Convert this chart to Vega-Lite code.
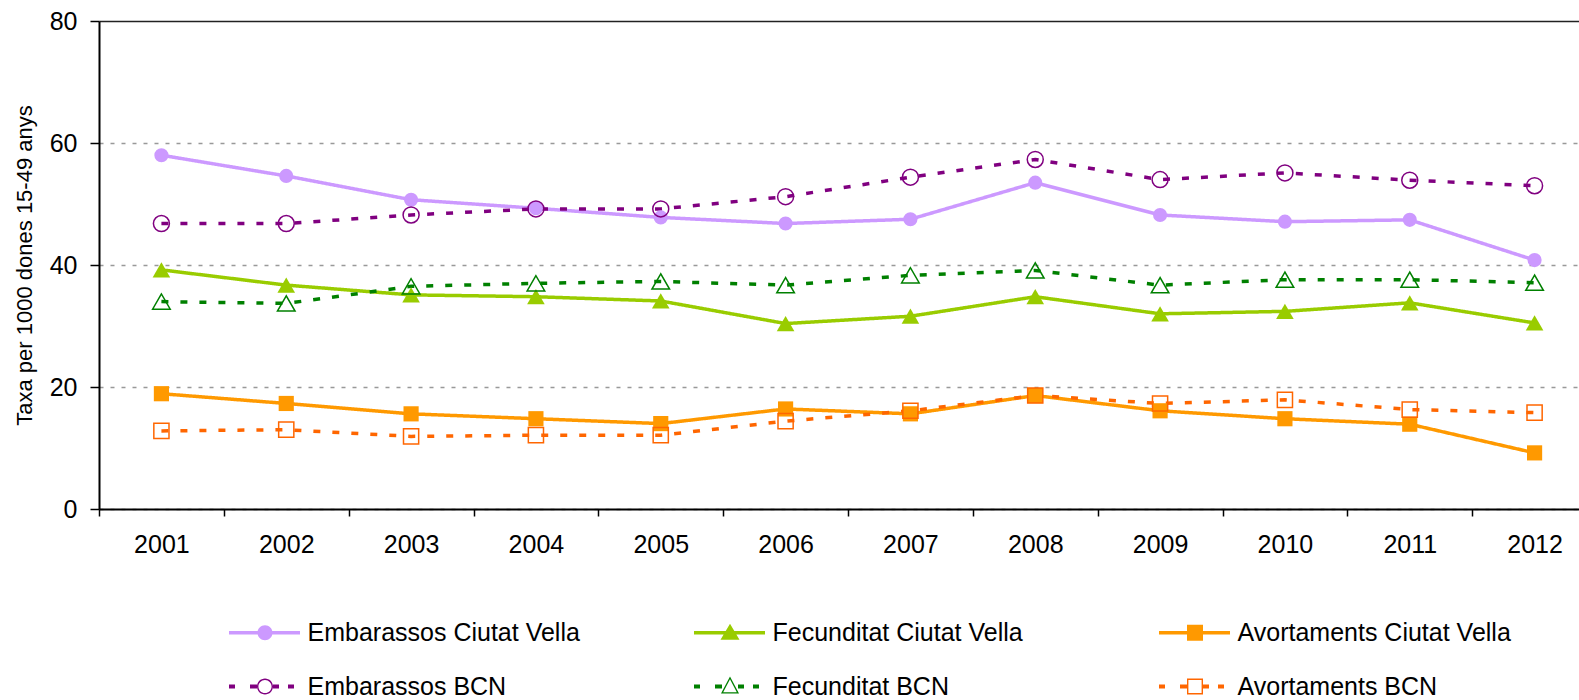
{
  "$schema": "https://vega.github.io/schema/vega-lite/v6.json",
  "width": 1480,
  "height": 488,
  "autosize": {"type": "none"},
  "padding": {"left": 99, "top": 21, "right": 0, "bottom": 191},
  "background": "white",
  "config": {"view": {"stroke": null}, "font": "Liberation Sans"},
  "data": {
    "values": [
      {"year": 2001, "series": "Embarassos Ciutat Vella", "value": 58.0},
      {"year": 2002, "series": "Embarassos Ciutat Vella", "value": 54.6},
      {"year": 2003, "series": "Embarassos Ciutat Vella", "value": 50.7},
      {"year": 2004, "series": "Embarassos Ciutat Vella", "value": 49.3},
      {"year": 2005, "series": "Embarassos Ciutat Vella", "value": 47.8},
      {"year": 2006, "series": "Embarassos Ciutat Vella", "value": 46.8},
      {"year": 2007, "series": "Embarassos Ciutat Vella", "value": 47.5},
      {"year": 2008, "series": "Embarassos Ciutat Vella", "value": 53.5},
      {"year": 2009, "series": "Embarassos Ciutat Vella", "value": 48.2},
      {"year": 2010, "series": "Embarassos Ciutat Vella", "value": 47.1},
      {"year": 2011, "series": "Embarassos Ciutat Vella", "value": 47.4},
      {"year": 2012, "series": "Embarassos Ciutat Vella", "value": 40.8},
      {"year": 2001, "series": "Fecunditat Ciutat Vella", "value": 39.2},
      {"year": 2002, "series": "Fecunditat Ciutat Vella", "value": 36.7},
      {"year": 2003, "series": "Fecunditat Ciutat Vella", "value": 35.1},
      {"year": 2004, "series": "Fecunditat Ciutat Vella", "value": 34.8},
      {"year": 2005, "series": "Fecunditat Ciutat Vella", "value": 34.1},
      {"year": 2006, "series": "Fecunditat Ciutat Vella", "value": 30.4},
      {"year": 2007, "series": "Fecunditat Ciutat Vella", "value": 31.6},
      {"year": 2008, "series": "Fecunditat Ciutat Vella", "value": 34.8},
      {"year": 2009, "series": "Fecunditat Ciutat Vella", "value": 32.0},
      {"year": 2010, "series": "Fecunditat Ciutat Vella", "value": 32.4},
      {"year": 2011, "series": "Fecunditat Ciutat Vella", "value": 33.8},
      {"year": 2012, "series": "Fecunditat Ciutat Vella", "value": 30.5},
      {"year": 2001, "series": "Avortaments Ciutat Vella", "value": 18.9},
      {"year": 2002, "series": "Avortaments Ciutat Vella", "value": 17.3},
      {"year": 2003, "series": "Avortaments Ciutat Vella", "value": 15.6},
      {"year": 2004, "series": "Avortaments Ciutat Vella", "value": 14.8},
      {"year": 2005, "series": "Avortaments Ciutat Vella", "value": 14.0},
      {"year": 2006, "series": "Avortaments Ciutat Vella", "value": 16.4},
      {"year": 2007, "series": "Avortaments Ciutat Vella", "value": 15.6},
      {"year": 2008, "series": "Avortaments Ciutat Vella", "value": 18.6},
      {"year": 2009, "series": "Avortaments Ciutat Vella", "value": 16.1},
      {"year": 2010, "series": "Avortaments Ciutat Vella", "value": 14.8},
      {"year": 2011, "series": "Avortaments Ciutat Vella", "value": 13.9},
      {"year": 2012, "series": "Avortaments Ciutat Vella", "value": 9.2},
      {"year": 2001, "series": "Embarassos BCN", "value": 46.8},
      {"year": 2002, "series": "Embarassos BCN", "value": 46.8},
      {"year": 2003, "series": "Embarassos BCN", "value": 48.2},
      {"year": 2004, "series": "Embarassos BCN", "value": 49.2},
      {"year": 2005, "series": "Embarassos BCN", "value": 49.2},
      {"year": 2006, "series": "Embarassos BCN", "value": 51.2},
      {"year": 2007, "series": "Embarassos BCN", "value": 54.4},
      {"year": 2008, "series": "Embarassos BCN", "value": 57.3},
      {"year": 2009, "series": "Embarassos BCN", "value": 54.0},
      {"year": 2010, "series": "Embarassos BCN", "value": 55.1},
      {"year": 2011, "series": "Embarassos BCN", "value": 53.9},
      {"year": 2012, "series": "Embarassos BCN", "value": 53.0},
      {"year": 2001, "series": "Fecunditat BCN", "value": 34.0},
      {"year": 2002, "series": "Fecunditat BCN", "value": 33.7},
      {"year": 2003, "series": "Fecunditat BCN", "value": 36.5},
      {"year": 2004, "series": "Fecunditat BCN", "value": 37.0},
      {"year": 2005, "series": "Fecunditat BCN", "value": 37.3},
      {"year": 2006, "series": "Fecunditat BCN", "value": 36.7},
      {"year": 2007, "series": "Fecunditat BCN", "value": 38.3},
      {"year": 2008, "series": "Fecunditat BCN", "value": 39.1},
      {"year": 2009, "series": "Fecunditat BCN", "value": 36.7},
      {"year": 2010, "series": "Fecunditat BCN", "value": 37.6},
      {"year": 2011, "series": "Fecunditat BCN", "value": 37.6},
      {"year": 2012, "series": "Fecunditat BCN", "value": 37.1},
      {"year": 2001, "series": "Avortaments BCN", "value": 12.8},
      {"year": 2002, "series": "Avortaments BCN", "value": 13.0},
      {"year": 2003, "series": "Avortaments BCN", "value": 11.9},
      {"year": 2004, "series": "Avortaments BCN", "value": 12.1},
      {"year": 2005, "series": "Avortaments BCN", "value": 12.1},
      {"year": 2006, "series": "Avortaments BCN", "value": 14.4},
      {"year": 2007, "series": "Avortaments BCN", "value": 16.1},
      {"year": 2008, "series": "Avortaments BCN", "value": 18.6},
      {"year": 2009, "series": "Avortaments BCN", "value": 17.3},
      {"year": 2010, "series": "Avortaments BCN", "value": 17.9},
      {"year": 2011, "series": "Avortaments BCN", "value": 16.3},
      {"year": 2012, "series": "Avortaments BCN", "value": 15.8}
    ]
  },
  "encoding": {
    "x": {
      "field": "year",
      "type": "ordinal",
      "scale": {"range": [0, 1498], "paddingInner": 0, "paddingOuter": 0},
      "axis": {
        "title": null,
        "labelAngle": 0,
        "tickBand": "extent",
        "tickSize": 7,
        "tickColor": "black",
        "tickWidth": 1.5,
        "domainColor": "black",
        "domainWidth": 2,
        "labelFontSize": 25,
        "labelColor": "black",
        "labelPadding": 16,
        "grid": false
      }
    },
    "y": {
      "field": "value",
      "type": "quantitative",
      "scale": {"domain": [0, 80], "nice": false},
      "axis": {
        "title": "Taxa per 1000 dones 15-49 anys",
        "values": [0, 20, 40, 60, 80],
        "tickSize": 9,
        "tickColor": "black",
        "tickWidth": 1.5,
        "domainColor": "black",
        "domainWidth": 2,
        "labelFontSize": 25,
        "labelPadding": 13,
        "labelColor": "black",
        "grid": true,
        "gridColor": {"condition": {"test": "datum.value === 80", "value": "#222222"}, "value": "#999999"},
        "gridDash": {"condition": {"test": "datum.value === 80", "value": [1, 0]}, "value": [4, 7]},
        "gridWidth": {"condition": {"test": "datum.value === 80", "value": 1.5}, "value": 1.3},
        "titleFontSize": 22,
        "titleFontWeight": "normal",
        "titleColor": "black",
        "titlePadding": 13
      }
    }
  },
  "layer": [
    {
      "mark": {"type": "line", "strokeCap": "butt", "strokeWidth": 3.5},
      "encoding": {
        "color": {
          "field": "series",
          "type": "nominal",
          "scale": {
            "domain": ["Embarassos Ciutat Vella", "Fecunditat Ciutat Vella", "Avortaments Ciutat Vella", "Embarassos BCN", "Fecunditat BCN", "Avortaments BCN"],
            "range": ["#CC99FF", "#99CC00", "#FF9900", "#800080", "#008000", "#FF6600"]
          },
          "legend": {
            "orient": "none",
            "direction": "horizontal",
            "legendX": 123,
            "legendY": 599,
            "columns": 3,
            "gridAlign": "all",
            "title": null,
            "padding": 0,
            "symbolSize": 4,
            "symbolStrokeWidth": 0,
            "symbolOffset": 30.5,
            "labelOffset": 30,
            "labelFontSize": 25,
            "labelFont": "Liberation Sans",
            "labelColor": "black",
            "labelLimit": 500,
            "columnPadding": 106,
            "rowPadding": 28,
            "encode": {
              "symbols": {
                "update": {
                  "shape": {"signal": "datum.value === 'Embarassos Ciutat Vella' ? 'M-36,-1.75H35V1.75H-36Z M-7.5,0A7.5,7.5 0 1,1 7.5,0A7.5,7.5 0 1,1 -7.5,0Z' : datum.value === 'Fecunditat Ciutat Vella' ? 'M-36,-1.75H35V1.75H-36Z M0,-9L9.5,7L-9.5,7Z' : datum.value === 'Avortaments Ciutat Vella' ? 'M-36,-1.75H35V1.75H-36Z M-8,-8H8V8H-8Z' : datum.value === 'Embarassos BCN' ? 'M-36,-2H-30V2H-36Z M-15,-2H-8V2H-15Z M8,-2H14V2H8Z M23,-2H29V2H23Z M-8,0A8,8 0 1,1 8,0A8,8 0 1,1 -8,0Z M-6.6,0A6.6,6.6 0 1,0 6.6,0A6.6,6.6 0 1,0 -6.6,0Z' : datum.value === 'Fecunditat BCN' ? 'M-36,-2H-30V2H-36Z M-15,-2H-8V2H-15Z M8,-2H14V2H8Z M23,-2H29V2H23Z M0,-10L9,7L-9,7Z M0,-7.2L-6.8,5.7L6.8,5.7Z' : 'M-36,-2H-30V2H-36Z M-15,-2H-8V2H-15Z M8,-2H14V2H8Z M23,-2H29V2H23Z M-8,-8H8V8H-8Z M-6.6,-6.6V6.6H6.6V-6.6Z'"},
                  "fill": {"scale": "color", "field": "value"},
                  "stroke": {"value": "transparent"},
                  "strokeWidth": {"value": 0},
                  "strokeDash": {"value": [1, 0]},
                  "size": {"value": 4},
                  "opacity": {"value": 1}
                }
              }
            }
          }
        },
        "strokeDash": {
          "field": "series",
          "type": "nominal",
          "scale": {
            "domain": ["Embarassos Ciutat Vella", "Fecunditat Ciutat Vella", "Avortaments Ciutat Vella", "Embarassos BCN", "Fecunditat BCN", "Avortaments BCN"],
            "range": [[1, 0], [1, 0], [1, 0], [7, 12], [7, 12], [7, 12]]
          },
          "legend": null
        }
      }
    },
    {
      "transform": [{"filter": "datum.series === 'Embarassos Ciutat Vella'"}],
      "mark": {"type": "point", "shape": "circle", "filled": true, "size": 200, "color": "#CC99FF", "opacity": 1}
    },
    {
      "transform": [{"filter": "datum.series === 'Fecunditat Ciutat Vella'"}],
      "mark": {"type": "point", "shape": "triangle-up", "filled": true, "size": 310, "color": "#99CC00", "opacity": 1}
    },
    {
      "transform": [{"filter": "datum.series === 'Avortaments Ciutat Vella'"}],
      "mark": {"type": "point", "shape": "square", "filled": true, "size": 230, "color": "#FF9900", "opacity": 1}
    },
    {
      "transform": [{"filter": "datum.series === 'Embarassos BCN'"}],
      "mark": {"type": "point", "shape": "circle", "filled": false, "size": 256, "color": "#800080", "strokeWidth": 1.5, "opacity": 1}
    },
    {
      "transform": [{"filter": "datum.series === 'Fecunditat BCN'"}],
      "mark": {"type": "point", "shape": "triangle-up", "filled": false, "size": 310, "color": "#008000", "strokeWidth": 1.5, "opacity": 1}
    },
    {
      "transform": [{"filter": "datum.series === 'Avortaments BCN'"}],
      "mark": {"type": "point", "shape": "square", "filled": false, "size": 230, "color": "#FF6600", "strokeWidth": 1.5, "opacity": 1}
    }
  ]
}
